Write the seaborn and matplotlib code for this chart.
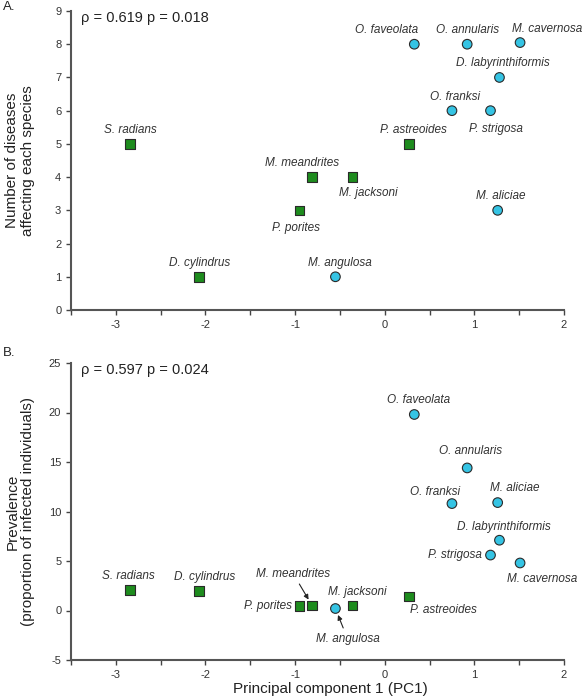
#!/usr/bin/env python3
"""
Disease count and prevalence vs PC1 for Caribbean coral species
"""

import pandas as pd
import matplotlib.pyplot as plt
import seaborn as sns

sns.set_style("ticks")
plt.rcParams['font.family'] = ['Liberation Sans', 'DejaVu Sans']
plt.rcParams['axes.unicode_minus'] = False

# ---- data ----
species = ['S. radians', 'D. cylindrus', 'P. porites', 'M. meandrites',
           'M. jacksoni', 'P. astreoides', 'M. angulosa', 'O. faveolata',
           'O. annularis', 'M. cavernosa', 'D. labyrinthiformis', 'O. franksi',
           'P. strigosa', 'M. aliciae']
group = ['square'] * 6 + ['circle'] * 8
pc1 = [-2.84, -2.07, -0.95, -0.81, -0.36, 0.27, -0.55, 0.33,
       0.92, 1.51, 1.28, 0.75, 1.18, 1.26]
n_diseases = [5, 1, 3, 4, 4, 5, 1, 8, 8, 8.05, 7, 6, 6, 3]
prevalence = [2.1, 2.0, 0.45, 0.5, 0.5, 1.4, 0.2, 19.8,
              14.4, 4.8, 7.1, 10.8, 5.6, 10.9]

stats_a = 'ρ = 0.619 p = 0.018'
stats_b = 'ρ = 0.597 p = 0.024'

df = pd.DataFrame({'species': species, 'group': group, 'pc1': pc1,
                   'diseases': n_diseases, 'prevalence': prevalence})

# label offsets in pixels (dx, dy) from the marker
offsets_a = {
    'S. radians': (0, 14), 'D. cylindrus': (0, 14), 'P. porites': (-4, -18),
    'M. meandrites': (-10, 14), 'M. jacksoni': (16, -16), 'P. astreoides': (5, 14),
    'M. angulosa': (4, 14), 'O. faveolata': (-28, 14), 'O. annularis': (0, 14),
    'M. cavernosa': (27, 14), 'D. labyrinthiformis': (3, 14), 'O. franksi': (3, 14),
    'P. strigosa': (5, -18), 'M. aliciae': (3, 14),
}
offsets_b = {
    'S. radians': (-2, 14), 'D. cylindrus': (5, 14), 'P. porites': (-8, 0),
    'M. meandrites': (-19, 32), 'M. jacksoni': (5, 14), 'P. astreoides': (35, -13),
    'M. angulosa': (12, -30), 'O. faveolata': (4, 14), 'O. annularis': (3, 17),
    'M. cavernosa': (22, -16), 'D. labyrinthiformis': (4, 13), 'O. franksi': (-17, 12),
    'P. strigosa': (-9, 0), 'M. aliciae': (17, 15),
}

palette = {'square': '#1e8c1e', 'circle': '#35c4e4'}
markers = {'square': 's', 'circle': 'o'}


def draw_panel(ax, ycol, offsets, stats, ylim, yticks, ylabel,
               right_aligned=(), with_arrow=()):
    sns.scatterplot(data=df, x='pc1', y=ycol, hue='group', style='group',
                    palette=palette, markers=markers, s=48, edgecolor='#2a2a2a',
                    linewidth=0.8, legend=False, ax=ax, zorder=3)
    for _, row in df.iterrows():
        dx, dy = offsets[row['species']]
        ha = 'right' if row['species'] in right_aligned else 'center'
        arrowprops = None
        if row['species'] in with_arrow:
            arrowprops = dict(arrowstyle='-|>', color='#222222', lw=0.8,
                              mutation_scale=7, shrinkA=1, shrinkB=5)
        ax.annotate(row['species'], (row['pc1'], row[ycol]),
                    xytext=(dx, dy), textcoords='offset pixels',
                    ha=ha, va='center', fontsize=8.5, style='italic',
                    color='#333333', arrowprops=arrowprops)

    ax.set_xlim(-3.5, 2)
    ax.set_ylim(*ylim)
    ax.set_xticks([-3, -2, -1, 0, 1, 2])
    ax.set_xticks([-3.5, -2.5, -1.5, -0.5, 0.5, 1.5], minor=True)
    ax.set_yticks(yticks)
    ax.tick_params(axis='both', labelsize=8, colors='#444444', labelcolor='#333333',
                   length=3.5, width=1, direction='out')
    ax.tick_params(axis='x', which='minor', length=3.5, width=1, color='#444444')
    for side in ['left', 'bottom']:
        ax.spines[side].set_color('#555555')
        ax.spines[side].set_linewidth(1.5)
    sns.despine(ax=ax)
    ax.set_xlabel('')
    ax.set_ylabel(ylabel, fontsize=11, color='#222222', linespacing=1.15)
    ax.yaxis.set_label_coords(-36 / 493, 0.5)
    ax.text(0.02, 0.975, stats, transform=ax.transAxes, fontsize=10.5,
            ha='left', va='center', color='#222222')


fig = plt.figure(figsize=(5.85, 6.98), dpi=100)
W, H = 585, 698
ax_a = fig.add_axes([71 / W, 1 - 310 / H, 493 / W, 299 / H])
ax_b = fig.add_axes([71 / W, 1 - 660 / H, 493 / W, 297 / H])

draw_panel(ax_a, 'diseases', offsets_a, stats_a, (0, 9), range(0, 10),
           'Number of diseases\naffecting each species')
draw_panel(ax_b, 'prevalence', offsets_b, stats_b, (-5, 25), range(-5, 30, 5),
           'Prevalence\n(proportion of infected individuals)',
           right_aligned={'P. porites', 'P. strigosa'},
           with_arrow={'M. meandrites', 'M. angulosa'})

fig.text(3 / W, 1 - 7 / H, 'A.', fontsize=9.5, color='#222222', va='center')
fig.text(3 / W, 1 - 353 / H, 'B.', fontsize=9.5, color='#222222', va='center')
fig.text(330 / W, 1 - 696 / H, 'Principal component 1 (PC1)', fontsize=11,
         ha='center', va='bottom', color='#222222')

fig.savefig('out.png', dpi=100)
plt.close(fig)
